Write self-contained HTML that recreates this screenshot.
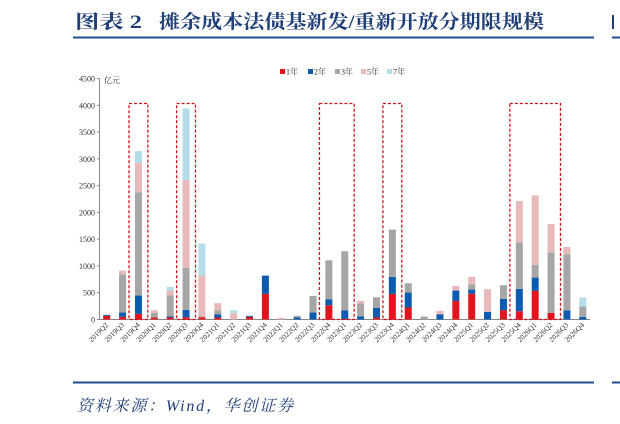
<!DOCTYPE html>
<html><head><meta charset="utf-8">
<style>
html,body{margin:0;padding:0;background:#fff;width:620px;height:424px;overflow:hidden}
svg{display:block}
</style></head>
<body>
<svg id="c" width="620" height="424" xmlns="http://www.w3.org/2000/svg">
<text x="75" y="28" font-family="'Liberation Serif','Noto Serif CJK SC',serif" font-size="19" font-weight="bold" fill="#1f3f78" textLength="67" lengthAdjust="spacingAndGlyphs">图表 2</text>
<text x="159" y="28" font-family="'Liberation Serif','Noto Serif CJK SC',serif" font-size="19" font-weight="bold" fill="#1f3f78" textLength="385" lengthAdjust="spacingAndGlyphs">摊余成本法债基新发/重新开放分期限规模</text>
<rect x="73" y="36.5" width="521" height="2" fill="#1f4e8c"/>
<rect x="612" y="36.5" width="8" height="2" fill="#1f4e8c"/>
<rect x="612" y="15" width="2" height="14" fill="#1f3f78"/>
<rect x="73" y="381.5" width="521" height="2" fill="#1f4e8c"/>
<rect x="612" y="381.5" width="8" height="2" fill="#1f4e8c"/>
<text x="77" y="411" font-family="'Liberation Serif','Noto Serif CJK SC',serif" font-size="16" font-style="italic" fill="#1f3f78" textLength="216" lengthAdjust="spacing">资料来源：Wind，华创证券</text>
<g id="plot"></g>
</svg>
<script>
const categories=["2019Q2","2019Q3","2019Q4","2020Q1","2020Q2","2020Q3","2020Q4","2021Q1","2021Q2","2021Q3","2021Q4","2022Q1","2022Q2","2022Q3","2022Q4","2023Q1","2023Q2","2023Q3","2023Q4","2024Q1","2024Q2","2024Q3","2024Q4","2025Q1","2025Q2","2025Q3","2025Q4","2026Q1","2026Q2","2026Q3","2026Q4"];
const s1y=[68,50,106,37,37,43,43,37,0,50,479,0,0,0,267,10,0,37,479,224,0,0,348,479,0,174,155,534,124,0,0];
const s2y=[19,80,341,0,19,137,0,56,0,18,341,0,37,130,112,158,56,181,317,279,0,99,193,80,143,211,417,249,0,168,50];
const s3y=[0,715,1927,87,398,783,13,75,0,0,0,0,31,311,727,1106,242,198,882,174,56,0,0,94,0,255,864,236,1125,1050,192];
const s5y=[0,69,547,50,87,1647,764,137,118,0,0,31,0,0,0,0,50,0,0,0,0,63,87,143,423,0,777,1299,535,137,0];
const s7y=[0,0,224,0,68,1330,597,0,56,0,0,0,0,0,0,0,0,0,0,0,0,0,0,0,0,0,0,0,0,0,168];
const seriesNames=["1年","2年","3年","5年","7年"];
const yTicks=[0,500,1000,1500,2000,2500,3000,3500,4000,4500];
const highlightRanges=[[2,2],[5,5],[14,15],[18,18],[26,28]];
const colors=["#e3141e","#0b5cb0","#a6a6a6","#e8b9b9","#b3dde9"];
const NS="http://www.w3.org/2000/svg";
const g=document.getElementById('plot');
const y0=319.5,yTop=78.5,yMax=4500;
const x0=106.7,dx=15.87,bw=7;
function yS(v){return y0-(v/yMax)*(y0-yTop);}
function xS(i){return x0+i*dx;}
function mk(t,a){const e=document.createElementNS(NS,t);for(const k in a)e.setAttribute(k,a[k]);g.appendChild(e);return e;}
const ff="'Liberation Serif','Noto Serif CJK SC',serif";
let ax=mk('line',{x1:99.5,y1:yTop,x2:99.5,y2:y0,stroke:'#888','stroke-width':1});


let xa=mk('line',{x1:99.5,y1:y0,x2:590,y2:y0,stroke:'#888','stroke-width':1});


yTicks.forEach(v=>{
  const t=mk('text',{x:95,y:yS(v)+3,'text-anchor':'end','font-family':ff,'font-size':8,fill:'#333'});
  t.textContent=v;
  
  
  const tk=mk('line',{x1:97,y1:yS(v),x2:99.5,y2:yS(v),stroke:'#888'});
  
  
});
const ut=mk('text',{x:104,y:83,'font-family':ff,'font-size':8,fill:'#333'});ut.textContent='亿元';


const series=[s1y,s2y,s3y,s5y,s7y];
categories.forEach((c,i)=>{
  let acc=0;
  series.forEach((s,k)=>{
    const v=s[i]; if(!v)return;
    const r=mk('rect',{x:xS(i)-bw/2,y:yS(acc+v),width:bw,height:yS(acc)-yS(acc+v),fill:colors[k]});
    
    
    acc+=v;
  });
  const x=xS(i)+2,y=y0+6;
  const t=mk('text',{x:x,y:y,'text-anchor':'end','font-family':ff,'font-size':7.5,fill:'#333',transform:`rotate(-45 ${x} ${y})`});
  t.textContent=c;
  
  
});
highlightRanges.forEach(r=>{
  const xa1=xS(r[0])-dx/2-1.5,xa2=xS(r[1])+dx/2+1.5;
  const b=mk('rect',{x:xa1,y:103.5,width:xa2-xa1,height:y0-103.5,fill:'none',stroke:'#d0121b','stroke-width':1.3,'stroke-dasharray':'3,2'});
  
  
});
const lx=[280,308,335,361,387];
seriesNames.forEach((n,k)=>{
  const r=mk('rect',{x:lx[k],y:69,width:5,height:5,fill:colors[k]});
  
  
  const t=mk('text',{x:lx[k]+6,y:74.5,'font-family':ff,'font-size':8,fill:'#333'});
  t.textContent=n;
  
  
});
</script>
</body></html>
